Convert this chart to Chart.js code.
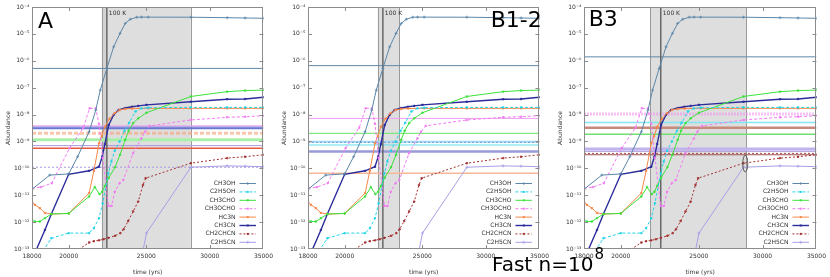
<!DOCTYPE html>
<html><head><meta charset="utf-8">
<script src="https://cdn.jsdelivr.net/npm/chart.js@4/dist/chart.umd.min.js"></script>
<style>
html,body{margin:0;padding:0;background:#fff;}
#wrap{position:relative;width:830px;height:277px;overflow:hidden;font-family:"DejaVu Sans",sans-serif;}
canvas{position:absolute;top:0;}
.big{position:absolute;font-size:22px;line-height:22px;color:#000;white-space:nowrap;font-family:"DejaVu Sans",sans-serif;}
</style></head><body>
<div id="wrap">
<canvas id="cA" width="277" height="277" style="left:0px"></canvas>
<canvas id="cB" width="277" height="277" style="left:276px"></canvas>
<canvas id="cC" width="278" height="277" style="left:552px"></canvas>
<div class="big" style="left:38px;top:9.7px">A</div>
<div class="big" style="left:490.7px;top:8.7px">B1-2</div>
<div class="big" style="left:588.7px;top:8.1px">B3</div>
<div class="big" style="left:492px;top:254px;font-size:20px;line-height:20px">Fast n=10<span style="font-size:15px;position:relative;top:-12px;margin-left:1px">8</span></div>
</div>
<script>
// ---------- data ----------
const SPECIES = ['CH3OH','C2H5OH','CH3CHO','CH3OCHO','HC3N','CH3CN','CH2CHCN','C2H5CN'];

const ch3ohT = [18000,18940,20000,20520,21210,21620,21900,22320,22760,23180,23530,23870,24320,24660,25130,28410,31530,33200,35000];
const ch3ohV = [1.66e-11,5.6e-11,6.2e-11,2.7e-10,2.3e-9,1.48e-8,8.1e-8,5.2e-7,3.3e-6,1.05e-5,2.45e-5,3.5e-5,4.17e-5,4.2e-5,4.2e-5,4.17e-5,4.0e-5,3.9e-5,3.8e-5];

const c2h5ohT = [18000,19030,20000,21210,21500,21820,22050,22420,22610,22830,23150,23480,23800,24230,24660,25130,28410,31530,33200,35000];
const c2h5ohV = [2e-14,2.5e-13,3.9e-13,3.9e-13,5.9e-13,1.4e-12,5e-12,6.6e-11,1.8e-10,4.5e-10,1.0e-9,2.5e-9,5e-9,1.3e-8,1.7e-8,1.8e-8,1.85e-8,1.85e-8,1.85e-8,1.85e-8];

const ch3choT = [18000,18150,18410,18680,19030,20000,21210,21560,21850,22020,22190,22440,22850,23180,23530,23760,24070,24420,25010,28410,31530,33200,35000];
const ch3choV = [1.15e-12,1.05e-12,1.05e-12,1.4e-12,2.0e-12,2.1e-12,9e-12,2e-11,1.1e-11,1.35e-11,2.2e-11,4.5e-11,1.1e-10,3.2e-10,1.15e-9,2.5e-9,4.8e-9,7.2e-9,1.17e-8,4.7e-8,7.1e-8,7.8e-8,8.1e-8];

const ch3ochoT = [18000,18460,19050,20050,20850,21240,21620,21820,22050,22420,22620,22830,23150,23400,24060,24650,24900,25250,28410,31530,33200,35000];
const ch3ochoV = [1.8e-11,2.0e-11,2.8e-11,5.6e-10,3.2e-9,1.7e-8,1.7e-8,4.5e-9,2.5e-10,4e-12,4e-12,1.35e-11,2.8e-11,3.7e-11,3.6e-10,1.3e-9,2.3e-9,3.8e-9,6.3e-9,7.9e-9,8.3e-9,9.1e-9];

const hc3nT = [18000,18150,18410,18680,19030,20000,21210,21500,21820,22000,22190,22490,22820,23150,23530,24000,25130,28410,31530,33200,35000];
const hc3nV = [5.8e-12,4.4e-12,3.3e-12,2.2e-12,2.0e-12,2.1e-12,1.2e-11,8e-11,8.5e-10,1.6e-9,3.5e-9,7e-9,1.12e-8,1.48e-8,1.62e-8,1.68e-8,1.7e-8,1.7e-8,1.7e-8,1.7e-8,1.7e-8];

const ch3cnT = [18000,18680,19030,20000,21210,21820,22020,22190,22440,22760,23090,23530,23980,24430,25010,28410,31530,33200,35000];
const ch3cnV = [4e-14,5.1e-13,2.0e-12,6.0e-11,8.1e-11,1.15e-10,2.7e-10,8e-10,4.1e-9,9.8e-9,1.48e-8,1.75e-8,1.95e-8,2.1e-8,2.3e-8,3.0e-8,3.7e-8,3.8e-8,4.4e-8];

const ch2chcnT = [20000,21210,21500,21820,22110,22420,22850,23200,23420,23730,24070,24420,24760,24950,28410,31530,33200,35000];
const ch2chcnV = [5.5e-14,1.74e-13,1.95e-13,2.1e-13,2.3e-13,2.6e-13,3.1e-13,3.9e-13,5.4e-13,1.1e-12,2.5e-12,5.8e-12,2.4e-11,4.3e-11,1.55e-10,2.4e-10,2.7e-10,3.2e-10];

const c2h5cnT = [24420,25010,28410,31530,33200,35000];
const c2h5cnV = [1.1e-14,3.9e-13,1.1e-10,1.23e-10,1.2e-10,1.15e-10];

const xTicks = [18000,20000,25000,30000,35000];
const yTicks = [1e-13,1e-12,1e-11,1e-10,1e-9,1e-8,1e-7,1e-6,1e-5,1e-4];

// warm-up (shaded) intervals and 100 K time per panel
const shadeA = [22000,28400];
const shadeB = [22000,23400];
const shadeC = [21750,28650];
const hotA = 22320, hotB = 22320, hotC = 22420;
const stripA = [22000,22320];

// observed reference abundances per panel
const refA = [5.2e-7,3.8e-9,3.5e-9,3.1e-9,2.0e-9,1.15e-9,7e-10,5.6e-10,1.1e-10];
const refB = [6.6e-7,7.2e-9,2.0e-9,9.8e-10,9.3e-10,7.4e-10,4.2e-10,6.6e-11];
const refC = [1.4e-6,1.05e-8,5.1e-9,3.2e-9,1.85e-9,5.2e-10,4.3e-10,3.6e-10,3.2e-10];
const markC = [28550,1.5e-10];

// ---------- styles ----------
const STYLE = {
  CH3OH:  {c:'#5b87aa', d:[],    pt:'cross', w:1},
  C2H5OH: {c:'#22d4e6', d:[3,2], pt:'rect',  w:1},
  CH3CHO: {c:'#3ce23c', d:[],    pt:'rect',  w:1},
  CH3OCHO:{c:'#f27af2', d:[3,2], pt:'rect',  w:1},
  HC3N:   {c:'#f5874a', d:[],    pt:'rect',  w:1},
  CH3CN:  {c:'#2c2c9c', d:[],    pt:'rect',  w:1.4},
  CH2CHCN:{c:'#a33030', d:[2,2], pt:'rect',  w:1},
  C2H5CN: {c:'#a89ee6', d:[],    pt:'cross', w:1}
};
const refStyleA = [
  {c:'#5f88a8',w:1},{c:'#f0a0f0',w:1},{c:'#a898e8',w:1},{c:'#6878d0',w:2},
  {c:'rgba(248,160,115,0.6)',w:3,d:[4,2]},{c:'#a8f0a8',w:3},{c:'#a898e0',w:1},
  {c:'#e85a40',w:1.5},{c:'#a898e0',w:1,d:[2,2]}
];
const refStyleB = [
  {c:'#5f88a8',w:1},{c:'#f09cf0',w:1},{c:'#80e880',w:1.2},{c:'#a8d8f0',w:2},
  {c:'#5aa0d8',w:1,d:[2,2]},{c:'#60e0f0',w:1},{c:'#9a9ad8',w:2.5},{c:'#f8b898',w:1.5}
];
const refStyleC = [
  {c:'#5f88a8',w:1},{c:'rgba(240,140,240,0.55)',w:3,d:[2,1]},{c:'#80e8f0',w:1.5},
  {c:'#c88a7a',w:2.5},{c:'#70e070',w:1.5},{c:'#c0b4ec',w:3},{c:'#a898e0',w:1},
  {c:'#b04848',w:1,d:[2,2]},{c:'#a05050',w:1}
];

const SERIES = {
  CH3OH:[ch3ohT,ch3ohV], C2H5OH:[c2h5ohT,c2h5ohV], CH3CHO:[ch3choT,ch3choV],
  CH3OCHO:[ch3ochoT,ch3ochoV], HC3N:[hc3nT,hc3nV], CH3CN:[ch3cnT,ch3cnV],
  CH2CHCN:[ch2chcnT,ch2chcnV], C2H5CN:[c2h5cnT,c2h5cnV]
};

const SUP = {'-':'\u207B','0':'\u2070','1':'\u00B9','2':'\u00B2','3':'\u00B3','4':'\u2074','5':'\u2075','6':'\u2076','7':'\u2077','8':'\u2078','9':'\u2079'};
function powLabel(v){ const e = Math.round(Math.log10(v)); return '10' + String(e).split('').map(ch=>SUP[ch]).join(''); }

const FONT = '"DejaVu Sans", sans-serif';

function makeDatasets(){
  return SPECIES.map(name=>{
    const [T,V] = SERIES[name]; const s = STYLE[name];
    return {
      label:name,
      data:T.map((t,i)=>({x:t,y:V[i]})),
      borderColor:s.c, backgroundColor:s.c, borderWidth:s.w, borderDash:s.d,
      pointStyle:s.pt, pointRadius:s.pt==='cross'?1.5:1, pointBorderWidth:0.8,
      pointBackgroundColor:s.c, pointBorderColor:s.c, tension:0, fill:false
    };
  });
}

function makePlugin(cfg){
  return {
    id:'panel_'+cfg.id,
    beforeDatasetsDraw(chart){
      const ctx = chart.ctx, a = chart.chartArea, x = chart.scales.x, y = chart.scales.y;
      ctx.save();
      ctx.beginPath(); ctx.rect(a.left,a.top,a.right-a.left,a.bottom-a.top); ctx.clip();
      const x0 = x.getPixelForValue(cfg.shade[0]), x1 = x.getPixelForValue(cfg.shade[1]);
      ctx.fillStyle = '#dedede'; ctx.fillRect(x0,a.top,x1-x0,a.bottom-a.top);
      if (cfg.strip){
        const s0 = x.getPixelForValue(cfg.strip[0]), s1 = x.getPixelForValue(cfg.strip[1]);
        ctx.fillStyle = 'rgba(0,0,0,0.05)'; ctx.fillRect(s0,a.top,s1-s0,a.bottom-a.top);
      }
      ctx.strokeStyle = '#9a9a9a'; ctx.lineWidth = 1;
      [x0,x1].forEach(px=>{ ctx.beginPath(); ctx.moveTo(Math.round(px)+0.5,a.top); ctx.lineTo(Math.round(px)+0.5,a.bottom); ctx.stroke(); });
      cfg.refs.forEach((v,i)=>{
        const st = cfg.refStyles[i]; const py = y.getPixelForValue(v);
        ctx.strokeStyle = st.c; ctx.lineWidth = st.w; ctx.setLineDash(st.d||[]);
        ctx.beginPath(); ctx.moveTo(a.left,py); ctx.lineTo(a.right,py); ctx.stroke();
      });
      ctx.setLineDash([]);
      const hx = x.getPixelForValue(cfg.hot);
      ctx.strokeStyle = '#606060'; ctx.lineWidth = 1.4;
      ctx.beginPath(); ctx.moveTo(hx,a.top); ctx.lineTo(hx,a.bottom); ctx.stroke();
      ctx.restore();
      ctx.save();
      ctx.fillStyle = '#333'; ctx.font = '6px '+FONT; ctx.textAlign='left'; ctx.textBaseline='alphabetic';
      ctx.fillText('100 K', hx+2, a.top+8);
      ctx.restore();
    },
    afterDraw(chart){
      const ctx = chart.ctx, a = chart.chartArea, x = chart.scales.x, y = chart.scales.y;
      ctx.save();
      // border
      ctx.strokeStyle = '#8c8c8c'; ctx.lineWidth = 1;
      ctx.strokeRect(Math.round(a.left)+0.5, Math.round(a.top)+0.5, Math.round(a.right-a.left)-1, Math.round(a.bottom-a.top)-1);
      // inward ticks
      ctx.beginPath();
      xTicks.slice(1,-1).forEach(t=>{ const px=Math.round(x.getPixelForValue(t))+0.5;
        ctx.moveTo(px,a.bottom); ctx.lineTo(px,a.bottom-4); ctx.moveTo(px,a.top); ctx.lineTo(px,a.top+4); });
      yTicks.slice(1,-1).forEach(v=>{ const py=Math.round(y.getPixelForValue(v))+0.5;
        ctx.moveTo(a.left,py); ctx.lineTo(a.left+4,py); ctx.moveTo(a.right,py); ctx.lineTo(a.right-4,py); });
      ctx.stroke();
      // ellipse mark
      if (cfg.mark){
        ctx.strokeStyle = '#555'; ctx.lineWidth = 1;
        ctx.beginPath(); ctx.ellipse(x.getPixelForValue(cfg.mark[0]), y.getPixelForValue(cfg.mark[1]), 2.5, 8.3, 0, 0, Math.PI*2); ctx.stroke();
      }
      // legend
      ctx.font = '6px '+FONT; ctx.textAlign='right'; ctx.textBaseline='middle';
      SPECIES.forEach((name,i)=>{
        const s = STYLE[name]; const ly = a.bottom - 65.5 + i*8.4;
        ctx.fillStyle = '#333'; ctx.fillText(name, a.right-28, ly);
        ctx.strokeStyle = s.c; ctx.lineWidth = s.w; ctx.setLineDash(s.d);
        ctx.beginPath(); ctx.moveTo(a.right-24, ly); ctx.lineTo(a.right-7.5, ly); ctx.stroke();
        ctx.setLineDash([]);
        const mx = a.right-15.7;
        if (s.pt==='cross'){ ctx.lineWidth=0.8; ctx.beginPath(); ctx.moveTo(mx-1.5,ly); ctx.lineTo(mx+1.5,ly); ctx.moveTo(mx,ly-1.5); ctx.lineTo(mx,ly+1.5); ctx.stroke(); }
        else { ctx.fillStyle = s.c; ctx.fillRect(mx-1,ly-1,2,2); }
      });
      // axis titles
      ctx.fillStyle = '#333'; ctx.font = '6px '+FONT; ctx.textAlign='center'; ctx.textBaseline='middle';
      ctx.fillText('time (yrs)', (a.left+a.right)/2, 272.7);
      ctx.translate(8, (a.top+a.bottom)/2); ctx.rotate(-Math.PI/2);
      ctx.fillText('Abundance', 0, 0);
      ctx.restore();
    }
  };
}

function makeChart(cfg){
  const el = document.getElementById(cfg.id);
  return new Chart(el, {
    type:'line',
    data:{datasets:makeDatasets()},
    options:{
      responsive:false, animation:false, devicePixelRatio:1,
      layout:{padding:{top:7,right:el.width-266.7,left:0,bottom:0}},
      plugins:{legend:{display:false}, tooltip:{enabled:false}, title:{display:false}},
      scales:{
        x:{type:'logarithmic', min:18000, max:35000,
           afterBuildTicks(s){ s.ticks = xTicks.map(v=>({value:v})); },
           afterFit(s){ s.height = 28; },
           ticks:{callback:v=>String(v), font:{size:6,family:FONT}, color:'#333', padding:4, maxRotation:0, autoSkip:false},
           grid:{display:false, drawTicks:false, tickLength:0}, border:{display:false}},
        y:{type:'logarithmic', min:1e-13, max:1e-4,
           afterBuildTicks(s){ s.ticks = yTicks.map(v=>({value:v})); },
           afterFit(s){ s.width = 32; },
           ticks:{callback:v=>powLabel(v), font:{size:6,family:FONT}, color:'#333', padding:2.5, autoSkip:false},
           grid:{display:false, drawTicks:false, tickLength:0}, border:{display:false}}
      }
    },
    plugins:[makePlugin(cfg)]
  });
}

makeChart({id:'cA', shade:shadeA, strip:stripA, hot:hotA, refs:refA, refStyles:refStyleA});
makeChart({id:'cB', shade:shadeB, hot:hotB, refs:refB, refStyles:refStyleB});
makeChart({id:'cC', shade:shadeC, hot:hotC, refs:refC, refStyles:refStyleC, mark:markC});
</script>
</body></html>
